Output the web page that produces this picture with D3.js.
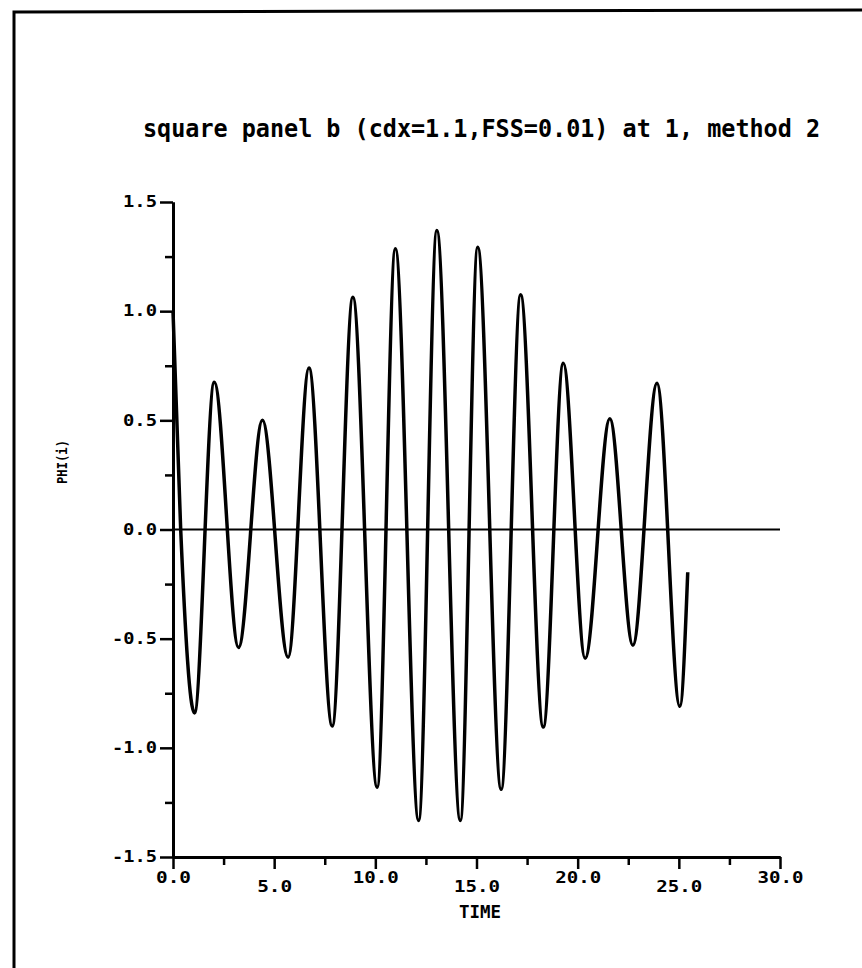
<!DOCTYPE html>
<html>
<head>
<meta charset="utf-8">
<script src="https://cdn.jsdelivr.net/npm/d3@7"></script>
<style>
  body { margin: 0; background: #fff; }
  svg { display: block; }
  .plotText { font-family: "DejaVu Sans Mono", monospace; font-weight: bold; fill: #000; }
</style>
</head>
<body>
<div id="chart"></div>
<script>
// values (extrema of the trace, plus start / end)
var timeVals = [0, 0.38, 1.06, 2.04, 3.24, 4.42, 5.69, 6.72, 7.87, 8.89, 10.09, 10.99, 12.14,
  13.04, 14.2, 15.06, 16.22, 17.18, 18.3, 19.29, 20.37, 21.59, 22.73, 23.92, 25.05, 25.44];
var phiVals = [1.0, 0, -0.84, 0.675, -0.54, 0.50, -0.585, 0.74, -0.90, 1.064, -1.18, 1.286, -1.333,
  1.37, -1.333, 1.293, -1.19, 1.075, -0.905, 0.762, -0.59, 0.507, -0.53, 0.67, -0.81, -0.196];

var xTicks = [0, 5, 10, 15, 20, 25, 30];
var xMinorTicks = [2.5, 7.5, 12.5, 17.5, 22.5, 27.5];
var yTicks = [-1.5, -1.0, -0.5, 0.0, 0.5, 1.0, 1.5];
var yMinorTicks = [-1.25, -0.75, -0.25, 0.25, 0.75, 1.25];

var titleText = "square panel b (cdx=1.1,FSS=0.01) at 1, method 2";
var xLabel = "TIME";
var yLabel = "PHI(i)";

var svgWidth = 862;
var svgHeight = 968;

var svg = d3.select("#chart")
  .append("svg")
  .attr("width", svgWidth)
  .attr("height", svgHeight);

// frame of the scanned page (top and left edges only)
svg.append("path")
  .attr("d", "M14,968 L14,12 L862,10")
  .attr("fill", "none")
  .attr("stroke", "#000")
  .attr("stroke-width", 3);

// scales
var xScale = d3.scaleLinear().domain([0, 30]).range([173, 780]);
var yScale = d3.scaleLinear().domain([-1.5, 1.5]).range([857, 202]);

// major / minor axes
var bottomAxis = d3.axisBottom(xScale)
  .tickValues(xTicks)
  .tickSize(12)
  .tickSizeOuter(0)
  .tickFormat(d => d.toFixed(1));
var bottomMinor = d3.axisBottom(xScale)
  .tickValues(xMinorTicks)
  .tickSize(8)
  .tickSizeOuter(0)
  .tickFormat("");
var leftAxis = d3.axisLeft(yScale)
  .tickValues(yTicks)
  .tickSize(13)
  .tickSizeOuter(0)
  .tickFormat(d => d.toFixed(1));
var leftMinor = d3.axisLeft(yScale)
  .tickValues(yMinorTicks)
  .tickSize(8)
  .tickSizeOuter(0)
  .tickFormat("");

var xAxisG = svg.append("g")
  .attr("transform", `translate(0, ${yScale(-1.5)})`)
  .call(bottomAxis);
svg.append("g")
  .attr("transform", `translate(0, ${yScale(-1.5)})`)
  .call(bottomMinor);
var yAxisG = svg.append("g")
  .attr("transform", `translate(${xScale(0)}, 0)`)
  .call(leftAxis);
svg.append("g")
  .attr("transform", `translate(${xScale(0)}, 0)`)
  .call(leftMinor);

svg.selectAll(".domain").attr("stroke-width", 3);
svg.selectAll(".tick line").attr("stroke-width", 2.5);

// the plotter staggers the x labels up / down
xAxisG.selectAll(".tick text")
  .attr("class", "plotText")
  .attr("y", (d, i) => (i % 2 ? 30 : 21))
  .attr("dy", "0.35em")
  .attr("font-size", 15)
  .attr("textLength", d => (d >= 10 ? 46 : 35))
  .attr("lengthAdjust", "spacingAndGlyphs");

yAxisG.selectAll(".tick text")
  .attr("class", "plotText")
  .attr("x", -16)
  .attr("font-size", 15)
  .attr("textLength", d => (d < 0 ? 45 : 34))
  .attr("lengthAdjust", "spacingAndGlyphs");

// zero line across the plot
svg.append("line")
  .attr("x1", xScale(0))
  .attr("x2", xScale(30))
  .attr("y1", yScale(0))
  .attr("y2", yScale(0))
  .attr("stroke", "#000")
  .attr("stroke-width", 2);

// the trace
var line = d3.line()
  .x((d, i) => xScale(timeVals[i]))
  .y(d => yScale(d))
  .curve(d3.curveMonotoneX);

svg.append("path")
  .datum(phiVals)
  .attr("d", line)
  .attr("fill", "none")
  .attr("stroke", "#000")
  .attr("stroke-width", 3.5)
  .attr("stroke-linejoin", "round");

// title and axis labels
svg.append("text")
  .attr("class", "plotText")
  .attr("x", 143)
  .attr("y", 137)
  .attr("font-size", 24)
  .attr("textLength", 677)
  .attr("lengthAdjust", "spacingAndGlyphs")
  .text(titleText);

svg.append("text")
  .attr("class", "plotText")
  .attr("x", 480)
  .attr("y", 918)
  .attr("text-anchor", "middle")
  .attr("font-size", 18)
  .attr("textLength", 42)
  .attr("lengthAdjust", "spacingAndGlyphs")
  .text(xLabel);

svg.append("text")
  .attr("class", "plotText")
  .attr("transform", "translate(67, 462) rotate(-90)")
  .attr("text-anchor", "middle")
  .attr("font-size", 14)
  .attr("textLength", 44)
  .attr("lengthAdjust", "spacingAndGlyphs")
  .text(yLabel);
</script>
</body>
</html>
